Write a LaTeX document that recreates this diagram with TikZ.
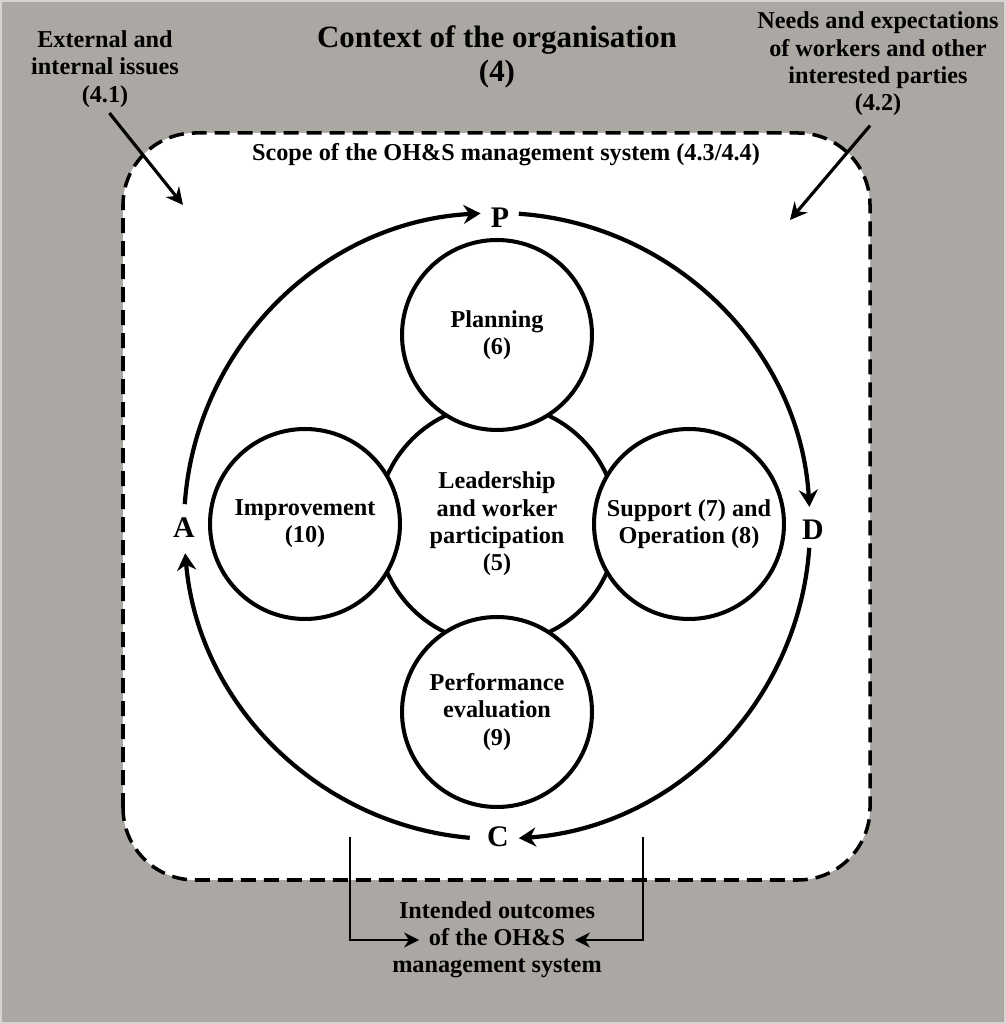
\documentclass[tikz,border=0pt]{standalone}
\usepackage{fontspec}
\setmainfont{Liberation Serif}
\usetikzlibrary{arrows.meta}

\definecolor{ctxgrey}{RGB}{171,167,163}
\definecolor{ctxedge}{RGB}{214,211,208}

\tikzset{
  txt/.style={font=\bfseries\fontsize{13.8}{15.5}\selectfont, align=center, inner sep=0pt},
  clause/.style={txt, circle, draw, line width=2.3pt, fill=white, minimum size=3.8cm},
  pdca/.style={font=\bfseries\fontsize{17}{18}\selectfont, inner sep=0pt},
  cycarrow/.style={line width=2.4pt, -{Stealth[length=0.34cm,width=0.38cm]}},
  inarrow/.style={line width=1.8pt, -{Stealth[length=0.34cm,width=0.34cm]}},
  outarrow/.style={line width=1.1pt, -{Stealth[length=0.3cm,width=0.3cm]}}
}

\begin{document}
\begin{tikzpicture}[x=0.02cm,y=0.02cm]
\useasboundingbox (0,0) rectangle (1006,1024);
\fill[ctxgrey] (0,0) rectangle (1006,1024);
\draw[ctxedge, line width=1.2pt] (0.6,0.6) rectangle (1005.4,1023.4);

% scope of the system (dashed box)
\draw[fill=white, line width=2pt, dash pattern=on 0.3cm off 0.16cm, rounded corners=1.44cm] (123,144) rectangle (870,891);

\node[txt, font=\bfseries\fontsize{17.6}{19.8}\selectfont] (title) at (497,967) {Context of the organisation\\(4)};
\node[txt] (ext) at (105,955) {External and\\internal issues\\(4.1)};
\node[txt] (needs) at (878,960) {Needs and expectations\\of workers and other\\interested parties\\(4.2)};
\node[txt] (scope) at (506,869) {Scope of the OH\&S management system (4.3/4.4)};

\coordinate (extin) at (183,819);
\coordinate (needsin) at (790,804);
\draw[inarrow, shorten <=4pt] (ext.south) -- (extin);
\draw[inarrow, shorten <=7pt] (needs.south) -- (needsin);

% clauses 5 to 10
\node[clause, minimum size=4.8cm] (lead) at (497,500) {Leadership\\and worker\\participation\\(5)};
\node[clause] (plan) at (497,689) {Planning\\(6)};
\node[clause] (perf) at (497,312) {Performance\\evaluation\\(9)};
\node[clause] (impr) at (305,500) {Improvement\\(10)};
\node[clause] (supp) at (689,500) {Support (7) and\\Operation (8)};

% plan-do-check-act
\coordinate (cyc) at (497,498);
\node[pdca] (P) at (500,806) {P};
\node[pdca] (D) at (813,494) {D};
\node[pdca] (C) at (498,187) {C};
\node[pdca] (A) at (184,496) {A};
\draw[cycarrow] (cyc) ++(176:313) arc[start angle=176, end angle=93, radius=313];
\draw[cycarrow] (cyc) ++(86:313) arc[start angle=86, end angle=3.5, radius=313];
\draw[cycarrow] (cyc) ++(-4:313) arc[start angle=-4, end angle=-86, radius=313];
\draw[cycarrow] (cyc) ++(-95:313) arc[start angle=-95, end angle=-175, radius=313];

% intended outcomes
\node[txt] (outcome) at (497,84) {Intended outcomes\\of the OH\&S\\management system};
\coordinate (cl) at (350,187);
\coordinate (cr) at (643,187);
\draw[outarrow, shorten >=1.56cm] (cl) |- (outcome.center);
\draw[outarrow, shorten >=1.56cm] (cr) |- (outcome.center);
\end{tikzpicture}
\end{document}
